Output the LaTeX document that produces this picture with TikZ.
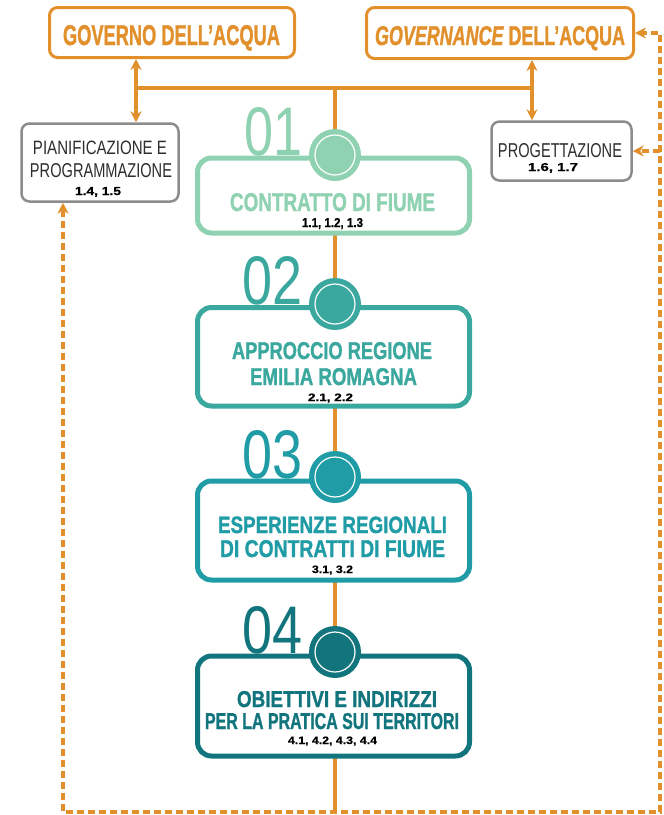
\documentclass[tikz,border=0pt]{standalone}
\usepackage{fontspec}
\setmainfont{Liberation Sans}
\newfontfamily\hvy[FakeBold=1.4]{Liberation Sans Bold}
\newfontfamily\hvyit[FakeBold=1.4]{Liberation Sans Bold Italic}
\newfontfamily\numf[FakeBold=0.6]{Liberation Sans Bold}
\usetikzlibrary{arrows.meta}
\definecolor{orng}{RGB}{226,144,44}
\definecolor{frame}{RGB}{140,140,140}
\definecolor{ink}{RGB}{45,45,45}
\definecolor{cA}{RGB}{143,210,178}
\definecolor{cB}{RGB}{58,168,158}
\definecolor{cC}{RGB}{31,156,166}
\definecolor{cD}{RGB}{18,117,126}
\newcommand\FitTxt[3]{\resizebox{#1pt}{#2pt}{#3}}
\tikzset{
  solidln/.style={draw=orng, line width=4pt},
  dashln/.style={draw=orng, line width=3.5pt, dash pattern=on 7pt off 4pt},
  tipend/.style={-{Stealth[length=11pt,width=11pt]}},
  topbox/.style={draw=orng, line width=3pt, rounded corners=8pt, fill=white, inner sep=0pt},
  greybox/.style={draw=frame, line width=2.5pt, rounded corners=8pt, fill=white, inner sep=0pt},
  stepbox/.style={draw=#1, line width=5pt, rounded corners=14pt, fill=white, minimum width=272pt, inner sep=0pt},
  dot/.style={circle, fill=#1, minimum size=52pt, inner sep=0pt,
    path picture={\draw[white, line width=1.2pt] (path picture bounding box.center) circle[radius=20pt];}},
  lbl/.style={inner sep=0pt, anchor=base},
  ttl/.style={lbl, font=\hvy},
  refs/.style={lbl, text=black, font=\numf},
  bignum/.style={inner sep=0pt, anchor=south east, text=#1},
}
\begin{document}
\begin{tikzpicture}[x=1pt,y=-1pt]
\useasboundingbox[fill=white] (0,0) rectangle (664,815);

% coordinates
\coordinate (L) at (136,88);
\coordinate (R) at (532,88);
\coordinate (M) at (335,88);
\coordinate (MB) at (335,812);
\coordinate (BL) at (63,812);
\coordinate (BR) at (660,812);
\coordinate (TR) at (660,33);
\coordinate (PR) at (660,151);

% top boxes
\node[topbox, minimum width=245pt, minimum height=50pt] (gov) at (172,32.5) {};
\node[topbox, minimum width=267pt, minimum height=51pt] (gvn) at (500,33) {};
\node[greybox, minimum width=157pt, minimum height=78pt] (pian) at (100,162.5) {};
\node[greybox, minimum width=140pt, minimum height=59pt] (prog) at (561.5,151) {};

% orange solid structure
\draw[solidln] (134,88) -- (534,88);
\draw[solidln] (M) -- (MB);
\draw[solidln, {Stealth[length=11pt,width=11pt]}-{Stealth[length=11pt,width=11pt]}] (gov.south -| L) -- (pian.north -| L);
\draw[solidln, {Stealth[length=11pt,width=11pt]}-{Stealth[length=11pt,width=11pt]}] (gvn.south -| R) -- (prog.north -| R);

% dashed feedback
\draw[dashln, {Stealth[length=11pt,width=11pt]}-{Stealth[length=11pt,width=11pt]}] (pian.south -| BL) -- (BL) -- (BR) -- (TR) -- (gvn.east);
\draw[dashln, tipend] (PR) -- (prog.east);

% step boxes
\node[stepbox=cA, minimum height=75pt] (b1) at (333.5,195.5) {};
\node[stepbox=cB, minimum height=98.5pt] (b2) at (333.5,356.75) {};
\node[stepbox=cC, minimum height=99pt] (b3) at (333.5,530.5) {};
\node[stepbox=cD, minimum height=100pt] (b4) at (333.5,706) {};

\node[dot=cA] (c1) at (335,155) {};
\node[dot=cB] (c2) at (335,304) {};
\node[dot=cC] (c3) at (335,477) {};
\node[dot=cD] (c4) at (335,652) {};

\node[bignum=cA] (n1) at (303,156.5) {\FitTxt{58}{48}{01}};
\node[bignum=cB] (n2) at (303,305) {\FitTxt{60}{48}{02}};
\node[bignum=cC] (n3) at (303,479) {\FitTxt{60}{48}{03}};
\node[bignum=cD] (n4) at (303,654) {\FitTxt{60}{47}{04}};

% top texts
\node[ttl, text=orng] (t1) at (171.5,45) {\FitTxt{217}{20}{GOVERNO DELL’ACQUA}};
\node[ttl, text=orng] (t2) at (500,45) {\FitTxt{250}{19}{{\hvyit GOVERNANCE} DELL’ACQUA}};

\node[lbl, text=ink] (p1) at (100,154) {\FitTxt{134}{13.5}{PIANIFICAZIONE E}};
\node[lbl, text=ink] (p2) at (101,177) {\FitTxt{142}{14}{PROGRAMMAZIONE}};
\node[refs] (p3) at (98,195) {\FitTxt{46}{8}{1.4, 1.5}};

\node[lbl, text=ink] (q1) at (560,157) {\FitTxt{124}{14}{PROGETTAZIONE}};
\node[refs] (q2) at (553,171) {\FitTxt{50}{8}{1.6, 1.7}};

% step texts
\node[ttl, text=cA] (s1a) at (332.5,211) {\FitTxt{205}{18}{CONTRATTO DI FIUME}};
\node[refs] (s1b) at (332.5,227) {\FitTxt{61}{9}{1.1, 1.2, 1.3}};

\node[ttl, text=cB] (s2a) at (332,359) {\FitTxt{200}{17}{APPROCCIO REGIONE}};
\node[ttl, text=cB] (s2b) at (333.5,385) {\FitTxt{167}{17}{EMILIA ROMAGNA}};
\node[refs] (s2c) at (330.5,401) {\FitTxt{45}{7.5}{2.1, 2.2}};

\node[ttl, text=cC] (s3a) at (332.5,533) {\FitTxt{229}{16.5}{ESPERIENZE REGIONALI}};
\node[ttl, text=cC] (s3b) at (332.5,557) {\FitTxt{225}{17}{DI CONTRATTI DI FIUME}};
\node[refs] (s3c) at (332.5,573) {\FitTxt{41}{7.5}{3.1, 3.2}};

\node[ttl, text=cD] (s4a) at (337,707) {\FitTxt{200}{16}{OBIETTIVI E INDIRIZZI}};
\node[ttl, text=cD] (s4b) at (332,729) {\FitTxt{254}{16}{PER LA PRATICA SUI TERRITORI}};
\node[refs] (s4c) at (332.5,744) {\FitTxt{89}{7.5}{4.1, 4.2, 4.3, 4.4}};
\end{tikzpicture}
\end{document}
